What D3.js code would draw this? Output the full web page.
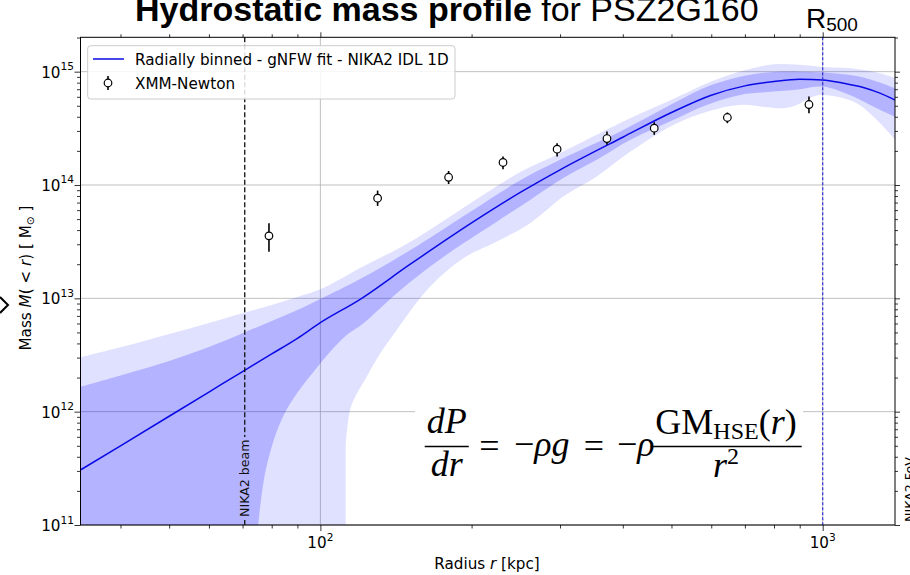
<!DOCTYPE html>
<html>
<head>
<meta charset="utf-8">
<script src="https://cdn.jsdelivr.net/npm/d3@7"></script>
<style>
  body { margin: 0; background: #fff; }
  svg { display: block; font-family: 'DejaVu Sans', sans-serif; }
</style>
</head>
<body>
<div id="app"></div>
<script>
// gNFW fit and upper envelopes (radius in kpc, mass in Msun)
const radius = [33.3, 40, 50, 60, 70, 80, 90, 100, 120, 150, 200, 250, 300, 400, 500, 600, 700, 800, 900, 1000, 1100, 1200, 1300, 1400]
const massFit = [3.06e11, 5.0e11, 9.11e11, 1.49e12, 2.26e12, 3.23e12, 4.44e12, 6.1e12, 9.8e12, 1.96e13, 4.63e13, 8.59e13, 1.36e14, 2.64e14, 4.36e14, 6.2e14, 7.49e14, 8.19e14, 8.58e14, 8.46e14, 7.9e14, 7.3e14, 6.47e14, 5.56e14]
const innerHigh = [1.66e12, 2.09e12, 2.80e12, 3.72e12, 4.92e12, 6.32e12, 7.90e12, 9.88e12, 1.48e13, 2.62e13, 5.91e13, 1.10e14, 1.67e14, 3.04e14, 5.15e14, 7.61e14, 9.22e14, 9.94e14, 1.00e15, 9.82e14, 9.51e14, 8.94e14, 8.01e14, 7.05e14]
const outerHigh = [3.02e12, 3.70e12, 4.85e12, 6.07e12, 7.39e12, 8.75e12, 1.03e13, 1.20e13, 1.85e13, 3.10e13, 7.01e13, 1.30e14, 1.91e14, 3.61e14, 5.64e14, 8.18e14, 1.03e15, 1.16e15, 1.15e15, 1.10e15, 1.08e15, 1.04e15, 9.66e14, 8.73e14]

// lower envelopes: visible part, then the points that close them under the plot
const innerLowR = [75.2, 78.1, 84.9, 100, 111.8, 121.8, 141.9, 165.4, 192.6, 224.5, 261.5, 304.5, 354.9, 413.5, 504, 588, 685, 798, 901, 1000, 1151, 1261, 1400]
const innerLowM = [1e11, 3.27e11, 9.68e11, 2.67e12, 4.59e12, 6.03e12, 1.11e13, 1.91e13, 3.06e13, 4.75e13, 7.39e13, 1.15e14, 1.67e14, 2.50e14, 3.75e14, 5.09e14, 6.24e14, 6.67e14, 7.01e14, 7.39e14, 6.03e14, 4.92e14, 3.95e14]
const innerCloseR = [74, 33.3]
const outerLowR = [112.3, 114.6, 117.8, 122.7, 130.2, 141.9, 165.4, 192.6, 224.5, 261.5, 304.5, 354.9, 413.5, 504, 588, 685, 773.5, 835, 888, 958, 1000, 1151, 1261, 1400]
const outerLowM = [5.08e11, 1.04e12, 1.40e12, 1.91e12, 3.04e12, 5.26e12, 1.27e13, 2.26e13, 3.17e13, 4.60e13, 7.90e13, 1.19e14, 1.96e14, 3.39e14, 4.44e14, 5.09e14, 4.86e14, 4.76e14, 5.09e14, 6.03e14, 6.24e14, 5.45e14, 4.02e14, 2.45e14]
const outerCloseR = [112.3, 33.3]
const floorMass = 1e10

// XMM-Newton points
const xmmR = [79, 130, 180, 231, 296, 372, 462, 646, 939]
const xmmM = [3.56e13, 7.65e13, 1.17e14, 1.58e14, 2.07e14, 2.57e14, 3.17e14, 3.94e14, 5.13e14]
const xmmLo = [2.58e13, 6.54e13, 1.02e14, 1.38e14, 1.78e14, 2.26e14, 2.77e14, 3.51e14, 4.30e14]
const xmmHi = [4.60e13, 8.93e13, 1.33e14, 1.78e14, 2.34e14, 2.96e14, 3.58e14, 4.36e14, 6.03e14]

const beamRadius = 70.7
const r500 = 1000
const xTickExp = [2, 3]
const yTickExp = [11, 12, 13, 14, 15]

const W = 910
const H = 575
const mLeft = 80.5, mRight = 895, mTop = 37.3, mBottom = 525
const fs = 15.2

const x = d3.scaleLog().domain([33.3, 1393]).range([mLeft, mRight])
const y = d3.scaleLog().domain([1e11, 2.01e15]).range([mBottom, mTop])

const svg = d3.select('#app').append('svg').attr('width', W).attr('height', H)

svg.append('defs').append('clipPath').attr('id', 'plot')
  .append('rect').attr('x', mLeft).attr('y', mTop).attr('width', mRight - mLeft).attr('height', mBottom - mTop)

const isPow10 = v => Math.abs(Math.log10(v) - Math.round(Math.log10(v))) < 1e-9

// grid
xTickExp.forEach(e => {
  svg.append('line').attr('x1', x(10 ** e)).attr('x2', x(10 ** e)).attr('y1', mTop).attr('y2', mBottom)
    .attr('stroke', '#b0b0b0').attr('stroke-width', 0.8)
})
yTickExp.forEach(e => {
  svg.append('line').attr('x1', mLeft).attr('x2', mRight).attr('y1', y(10 ** e)).attr('y2', y(10 ** e))
    .attr('stroke', '#b0b0b0').attr('stroke-width', 0.8)
})

const plot = svg.append('g').attr('clip-path', 'url(#plot)')
const edge = d3.line().x(d => x(d[0])).y(d => y(d[1])).curve(d3.curveCatmullRom.alpha(0.5))
const fitLine = d3.line().x(d => x(d[0])).y(d => y(d[1])).curve(d3.curveMonotoneX)

function band(high, lowR, lowM, closeR) {
  const upper = radius.map((r, i) => [r, high[i]])
  const low = lowR.map((r, i) => [r, lowM[i]]).reverse()
  const close = closeR.map(r => `L${x(r)},${y(floorMass)}`).join('')
  return edge(upper) + 'L' + edge(low).slice(1) + close + 'Z'
}

plot.append('path').attr('d', band(outerHigh, outerLowR, outerLowM, outerCloseR))
  .attr('fill', '#0000ff').attr('fill-opacity', 0.12)
plot.append('path').attr('d', band(innerHigh, innerLowR, innerLowM, innerCloseR))
  .attr('fill', '#0000ff').attr('fill-opacity', 0.2)

plot.append('path').attr('d', fitLine(radius.map((r, i) => [r, massFit[i]])))
  .attr('fill', 'none').attr('stroke', '#0a0ae6').attr('stroke-width', 1.5)

// NIKA2 beam line, with a gap for its label
const bx = x(beamRadius)
svg.append('line').attr('x1', bx).attr('x2', bx).attr('y1', mTop).attr('y2', 437)
  .attr('stroke', '#111').attr('stroke-width', 1.3).attr('stroke-dasharray', '5,2.5')
svg.append('line').attr('x1', bx).attr('x2', bx).attr('y1', 520).attr('y2', mBottom)
  .attr('stroke', '#111').attr('stroke-width', 1.3)
svg.append('text').attr('transform', `translate(${bx + 4.5},517) rotate(-90)`)
  .attr('font-size', 12.6).attr('fill', '#111').text('NIKA2 beam')

// R500 line
svg.append('line').attr('x1', x(r500)).attr('x2', x(r500)).attr('y1', mTop).attr('y2', mBottom)
  .attr('stroke', '#3535d8').attr('stroke-width', 1.2).attr('stroke-dasharray', '3,2')

// XMM points
const pts = svg.append('g')
xmmR.forEach((r, i) => {
  pts.append('line').attr('x1', x(r)).attr('x2', x(r)).attr('y1', y(xmmLo[i])).attr('y2', y(xmmHi[i]))
    .attr('stroke', '#000').attr('stroke-width', 1.6)
  pts.append('circle').attr('cx', x(r)).attr('cy', y(xmmM[i])).attr('r', 3.8)
    .attr('fill', '#fff').attr('stroke', '#000').attr('stroke-width', 1.2)
})

// equation
const eq = svg.append('g').attr('font-family', "'Liberation Serif', serif").attr('font-size', 36).attr('fill', '#000')
eq.append('rect').attr('x', 415).attr('y', 395).attr('width', 388).attr('height', 92).attr('fill', '#fff')
eq.append('text').attr('x', 446.7).attr('y', 433).attr('text-anchor', 'middle').attr('font-style', 'italic').text('dP')
eq.append('line').attr('x1', 424.7).attr('x2', 468.8).attr('y1', 446.5).attr('y2', 446.5).attr('stroke', '#000').attr('stroke-width', 1.4)
eq.append('text').attr('x', 446.7).attr('y', 476).attr('text-anchor', 'middle').attr('font-style', 'italic').text('dr')
eq.append('text').attr('x', 489.5).attr('y', 458).attr('text-anchor', 'middle').text('=')
const t1 = eq.append('text').attr('x', 514).attr('y', 456)
t1.append('tspan').text('\u2212')
t1.append('tspan').attr('font-style', 'italic').text('\u03c1g')
eq.append('text').attr('x', 594).attr('y', 458).attr('text-anchor', 'middle').text('=')
const t2 = eq.append('text').attr('x', 617).attr('y', 456)
t2.append('tspan').text('\u2212')
t2.append('tspan').attr('font-style', 'italic').text('\u03c1')
const num = eq.append('text').attr('x', 726).attr('y', 434).attr('text-anchor', 'middle')
num.append('tspan').text('GM')
num.append('tspan').attr('font-size', 24).attr('dy', 5).text('HSE')
num.append('tspan').attr('dy', -5).text('(')
num.append('tspan').attr('font-style', 'italic').text('r')
num.append('tspan').text(')')
eq.append('line').attr('x1', 650.5).attr('x2', 801.7).attr('y1', 446.5).attr('y2', 446.5).attr('stroke', '#000').attr('stroke-width', 1.4)
const den = eq.append('text').attr('x', 726).attr('y', 477).attr('text-anchor', 'middle')
den.append('tspan').attr('font-style', 'italic').text('r')
den.append('tspan').attr('font-size', 24).attr('dy', -13).text('2')

// legend
const lg = svg.append('g')
lg.append('rect').attr('x', 87.7).attr('y', 45.7).attr('width', 367.3).attr('height', 53.3).attr('rx', 3)
  .attr('fill', '#fff').attr('fill-opacity', 0.85).attr('stroke', '#cccccc')
lg.append('line').attr('x1', 93).attr('x2', 124).attr('y1', 59).attr('y2', 59).attr('stroke', '#0a0ae6').attr('stroke-width', 1.5)
lg.append('text').attr('x', 135).attr('y', 64.5).attr('font-size', fs).text('Radially binned - gNFW fit - NIKA2 IDL 1D')
lg.append('line').attr('x1', 108).attr('x2', 108).attr('y1', 76).attr('y2', 90).attr('stroke', '#000').attr('stroke-width', 1.6)
lg.append('circle').attr('cx', 108).attr('cy', 83).attr('r', 3.8).attr('fill', '#fff').attr('stroke', '#000').attr('stroke-width', 1.2)
lg.append('text').attr('x', 135).attr('y', 88.5).attr('font-size', fs).text('XMM-Newton')

// frame and ticks
svg.append('rect').attr('x', mLeft).attr('y', mTop).attr('width', mRight - mLeft).attr('height', mBottom - mTop)
  .attr('fill', 'none').attr('stroke', '#000').attr('stroke-width', 1)

const minorX = x.ticks().filter(v => !isPow10(v))
const minorY = y.ticks().filter(v => !isPow10(v))
const majorX = xTickExp.map(e => 10 ** e)
const majorY = yTickExp.map(e => 10 ** e)

function ticks(axis, vals, size, tr) {
  svg.append('g').attr('transform', tr)
    .call(axis.tickValues(vals).tickSize(size).tickFormat(''))
    .call(g => g.select('.domain').remove())
    .call(g => g.selectAll('line').attr('stroke', '#000').attr('stroke-width', 0.8))
}
ticks(d3.axisBottom(x), minorX, 3.5, `translate(0,${mBottom})`)
ticks(d3.axisBottom(x), majorX, 6, `translate(0,${mBottom})`)
ticks(d3.axisTop(x), minorX, 3, `translate(0,${mTop})`)
ticks(d3.axisTop(x), majorX, 5, `translate(0,${mTop})`)
ticks(d3.axisLeft(y), minorY, 3.5, `translate(${mLeft},0)`)
ticks(d3.axisLeft(y), majorY, 6, `translate(${mLeft},0)`)
ticks(d3.axisRight(y), minorY, 3, `translate(${mRight},0)`)
ticks(d3.axisRight(y), majorY, 5, `translate(${mRight},0)`)

// tick labels
yTickExp.forEach(e => {
  const t = svg.append('text').attr('x', 74).attr('y', y(10 ** e) + 6).attr('text-anchor', 'end').attr('font-size', fs)
  t.append('tspan').text('10')
  t.append('tspan').attr('font-size', 10.6).attr('dy', -7.5).text(e)
})
xTickExp.forEach(e => {
  const t = svg.append('text').attr('x', x(10 ** e)).attr('y', 548).attr('text-anchor', 'middle').attr('font-size', fs)
  t.append('tspan').text('10')
  t.append('tspan').attr('font-size', 10.6).attr('dy', -7.5).text(e)
})

// axis labels
const xl = svg.append('text').attr('x', 487).attr('y', 569).attr('text-anchor', 'middle').attr('font-size', fs)
xl.append('tspan').text('Radius ')
xl.append('tspan').attr('font-style', 'italic').text('r')
xl.append('tspan').text(' [kpc]')

const yl = svg.append('text').attr('transform', 'translate(31,278) rotate(-90)').attr('text-anchor', 'middle').attr('font-size', fs)
yl.append('tspan').text('Mass ')
yl.append('tspan').attr('font-style', 'italic').text('M')
yl.append('tspan').text('( < ')
yl.append('tspan').attr('font-style', 'italic').text('r')
yl.append('tspan').text(') [ M')
yl.append('tspan').attr('font-size', 10.6).attr('dy', 3).text('\u2299')
yl.append('tspan').attr('dy', -3).text(' ]')

// title (clipped at the top of the figure) and R500 mark
const title = svg.append('text').attr('x', 135).attr('y', 21).attr('font-family', "'Liberation Sans', Arial, sans-serif").attr('font-size', 34)
title.append('tspan').attr('font-weight', 'bold').text('Hydrostatic mass profile')
title.append('tspan').text(' for PSZ2G160')

const rt = svg.append('text').attr('x', 806).attr('y', 28).attr('font-family', "'Liberation Sans', Arial, sans-serif").attr('font-size', 28)
rt.append('tspan').text('R')
rt.append('tspan').attr('font-size', 19).attr('dy', 3).text('500')

svg.append('text').attr('transform', 'translate(913.5,522) rotate(-90)').attr('font-size', 12.6).text('NIKA2 FoV')

svg.append('path').attr('d', 'M0,297 L8,305 L0,313').attr('fill', 'none').attr('stroke', '#000').attr('stroke-width', 2)
</script>
</body>
</html>
